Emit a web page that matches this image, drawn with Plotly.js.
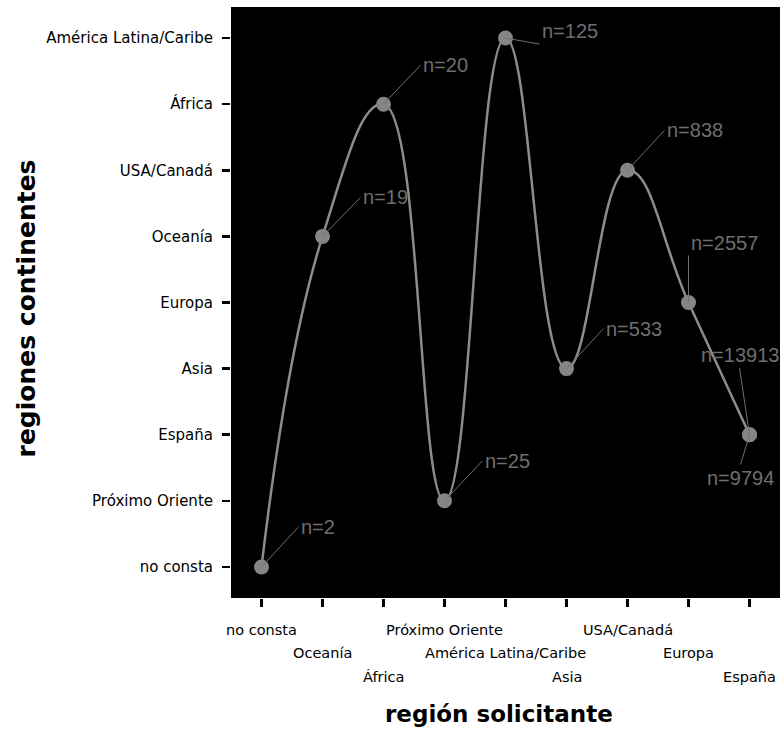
<!DOCTYPE html>
<html>
<head>
<meta charset="utf-8">
<script src="https://cdn.plot.ly/plotly-3.0.1.min.js"></script>
<style>
html,body{margin:0;padding:0;background:#fff;}
#chart{width:780px;height:729px;}
</style>
</head>
<body>
<div id="chart"></div>
<script>
// ---- data ----
var xCategories = ["no consta","Oceanía","África","Próximo Oriente","América Latina/Caribe","Asia","USA/Canadá","Europa","España"];
var yCategories = ["no consta","Próximo Oriente","España","Asia","Europa","Oceanía","USA/Canadá","África","América Latina/Caribe"];
var regionSolicitante = ["no consta","Oceanía","África","Próximo Oriente","América Latina/Caribe","Asia","USA/Canadá","Europa","España","España"];
var regionContinente  = ["no consta","Oceanía","África","Próximo Oriente","América Latina/Caribe","Asia","USA/Canadá","Europa","España","España"];
var nValues = [2,19,20,25,125,533,838,2557,9794,13913];
var xTitle = "región solicitante";
var yTitle = "regiones continentes";

// ---- label placement (style, not data) ----
var labelPlacement = [
  {ax:37, ay:-40, xa:"left", ya:"middle"},
  {ax:38, ay:-39, xa:"left", ya:"middle"},
  {ax:37, ay:-39, xa:"left", ya:"middle"},
  {ax:38, ay:-40, xa:"left", ya:"middle"},
  {ax:34, ay:6,   xa:"left", ya:"bottom"},
  {ax:37, ay:-40, xa:"left", ya:"middle"},
  {ax:37, ay:-40, xa:"left", ya:"middle"},
  {ax:0,  ay:-47, xa:"left", ya:"bottom"},
  {ax:-9, ay:30,  xa:"center", ya:"top"},
  {ax:-10,ay:-67, xa:"center", ya:"bottom"}
];
var xLabelRowShift = [-32,-55,-79];

// unique points for the curve
var lineX = [], lineY = [];
for (var i = 0; i < regionSolicitante.length; i++) {
  if (i > 0 && regionSolicitante[i] === regionSolicitante[i-1] && regionContinente[i] === regionContinente[i-1]) continue;
  lineX.push(regionSolicitante[i]); lineY.push(regionContinente[i]);
}

var traces = [
  {x: lineX, y: lineY, type: "scatter", mode: "lines",
   line: {shape: "spline", smoothing: 1.3, color: "#8c8c8c", width: 2.5},
   hoverinfo: "skip", showlegend: false},
  {x: regionSolicitante, y: regionContinente, type: "scatter", mode: "markers",
   marker: {size: 15, color: "#858585"}, showlegend: false}
];

var annotations = [];
for (var j = 0; j < nValues.length; j++) {
  var p = labelPlacement[j];
  annotations.push({
    x: regionSolicitante[j], y: regionContinente[j], xref: "x", yref: "y",
    text: "n=" + nValues[j], showarrow: true, arrowhead: 0, arrowwidth: 1,
    arrowcolor: "#707070", standoff: 0, ax: p.ax, ay: p.ay,
    xanchor: p.xa, yanchor: p.ya,
    font: {family: "Liberation Sans, Arial, sans-serif", size: 20, color: "#6e6e6e"}
  });
}
for (var k = 0; k < xCategories.length; k++) {
  annotations.push({
    x: xCategories[k], y: 0, xref: "x", yref: "paper",
    text: xCategories[k], showarrow: false,
    xanchor: "center", yanchor: "middle", yshift: xLabelRowShift[k % 3],
    font: {family: "DejaVu Sans, sans-serif", size: 14.5, color: "#000"}
  });
}
annotations.push({
  x: 0.488, y: 0, xref: "paper", yref: "paper", yshift: -116,
  xanchor: "center", yanchor: "middle", showarrow: false, text: xTitle,
  font: {family: "DejaVu Sans, sans-serif", size: 23, color: "#000", weight: "bold"}
});
annotations.push({
  x: 0, y: 0.49, xref: "paper", yref: "paper", xshift: -205,
  xanchor: "center", yanchor: "middle", showarrow: false, text: yTitle, textangle: -90,
  font: {family: "DejaVu Sans, sans-serif", size: 25, color: "#000", weight: "bold"}
});

var layout = {
  width: 780, height: 729,
  margin: {l: 231, r: 0, t: 7, b: 131},
  paper_bgcolor: "#ffffff",
  plot_bgcolor: "#000000",
  showlegend: false,
  xaxis: {
    type: "category", categoryorder: "array", categoryarray: xCategories,
    range: [-0.5, 8.5], showgrid: false, zeroline: false,
    showticklabels: false, ticks: "outside", ticklen: 8, tickwidth: 2.5, tickcolor: "#000",
    showline: false
  },
  yaxis: {
    type: "category", categoryorder: "array", categoryarray: yCategories,
    range: [-0.47, 8.47], showgrid: false, zeroline: false,
    ticks: "outside", ticklen: 8, tickwidth: 2.5, tickcolor: "#000",
    ticklabelstandoff: 6,
    tickfont: {family: "DejaVu Sans, sans-serif", size: 15, color: "#000"},
    showline: false
  },
  annotations: annotations
};

Plotly.newPlot("chart", traces, layout, {staticPlot: true, displayModeBar: false});
</script>
</body>
</html>
